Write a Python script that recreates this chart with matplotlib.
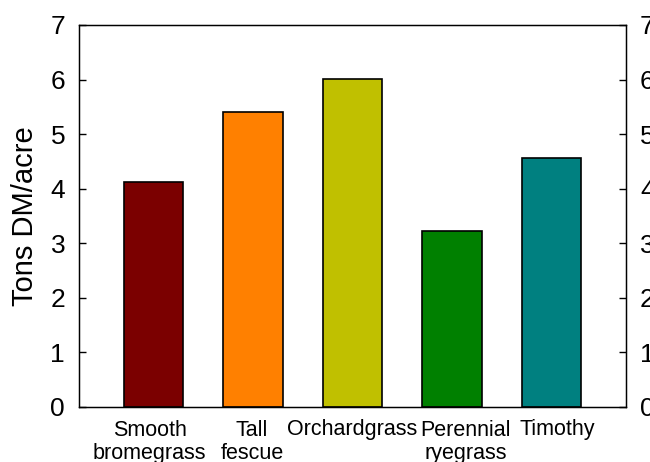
import matplotlib
matplotlib.use("Agg")
import matplotlib.pyplot as plt
from matplotlib.transforms import ScaledTranslation

categories = ["Smooth\nbromegrass", "Tall\nfescue", "Orchardgrass", "Perennial\nryegrass", "Timothy"]
values = [4.13, 5.41, 6.01, 3.23, 4.57]
colors = ["#7B0000", "#FF8000", "#C0C000", "#008000", "#008080"]
yticks = [0, 1, 2, 3, 4, 5, 6, 7]

plt.rcParams['font.family'] = ['Liberation Sans', 'DejaVu Sans']

fig = plt.figure(figsize=(6.5, 4.62), dpi=100)
ax = fig.add_axes([79/650, 55/462, 547/650, 382/462])
pos = list(range(1, len(values) + 1))
ax.bar(pos, values, width=0.6, color=colors, edgecolor="black", linewidth=1.2, zorder=2)
ax.set_xlim(0.25, 5.75)
ax.set_ylim(0, 7)
ax.set_yticks(yticks)
ax.set_yticklabels([str(t) for t in yticks], fontsize=19)
ax.set_xticks(pos)
ax.set_xticklabels(categories, fontsize=15.5, linespacing=1.15)
ax.tick_params(axis='x', length=0, pad=9)
ax.tick_params(axis='y', direction='in', length=5, width=1, pad=10)
ax.set_ylabel("Tons DM/acre", fontsize=21, labelpad=8)
for s in ax.spines.values():
    s.set_linewidth(1.0)

# small horizontal shifts of category labels (pixels) as in the reference
shifts = [-4, -1, 0, 14, 6]
for lbl, dx in zip(ax.get_xticklabels(), shifts):
    lbl.set_transform(lbl.get_transform() + ScaledTranslation(dx / 100, 0, fig.dpi_scale_trans))

ax2 = ax.twinx()
ax2.set_ylim(0, 7)
ax2.set_yticks(yticks)
ax2.set_yticklabels([str(t) for t in yticks], fontsize=19)
ax2.tick_params(axis='y', direction='in', length=5, width=1, pad=10)

fig.savefig("out.png", dpi=100)
